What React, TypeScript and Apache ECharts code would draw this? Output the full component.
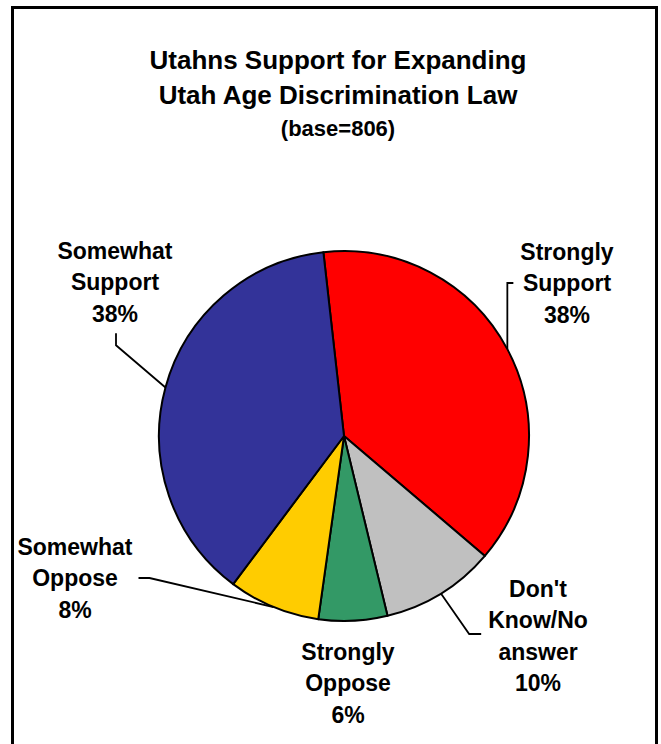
import React, { useEffect, useRef } from "react";
import * as echarts from "echarts";

const categories = [
  "Strongly\nSupport",
  "Don't\nKnow/No\nanswer",
  "Strongly\nOppose",
  "Somewhat\nOppose",
  "Somewhat\nSupport",
];
const values = [38, 10, 6, 8, 38];
const colors = ["#FF0000", "#C0C0C0", "#339966", "#FFCC00", "#333399"];
const titleLines = ["Utahns Support for Expanding", "Utah Age Discrimination Law"];
const subtitle = "(base=806)";

// label block centres (layout only)
const labelCenters: number[][] = [
  [567, 283],
  [538, 636],
  [348, 683],
  [75, 578],
  [115, 282],
];

export default function App() {
  const ref = useRef<HTMLDivElement>(null);
  useEffect(() => {
    if (!ref.current) return;
    const chart = echarts.init(ref.current, null, { renderer: "svg" });
    const font = "'Liberation Sans', Arial, sans-serif";
    chart.setOption({
      animation: false,
      backgroundColor: "#ffffff",
      textStyle: { fontFamily: font },
      title: {
        text: titleLines.join("\n"),
        subtext: subtitle,
        left: 338,
        top: 42,
        padding: 0,
        textAlign: "center",
        itemGap: 3,
        textStyle: { fontFamily: font, fontSize: 26, fontWeight: "bold", color: "#000", lineHeight: 35 },
        subtextStyle: { fontFamily: font, fontSize: 22, fontWeight: "bold", color: "#000", lineHeight: 26 },
      },
      graphic: [
        {
          type: "rect",
          shape: { x: 12.5, y: 7.5, width: 644, height: 800 },
          style: { fill: "none", stroke: "#000", lineWidth: 3 },
          silent: true,
        },
      ],
      series: [
        {
          type: "pie",
          center: [344, 436],
          radius: 185,
          startAngle: 96.4,
          clockwise: true,
          avoidLabelOverlap: false,
          itemStyle: { borderColor: "#000", borderWidth: 2 },
          emphasis: { disabled: true },
          label: {
            show: true,
            position: "outside",
            formatter: "{b}\n{c}%",
            fontFamily: font,
            fontSize: 23,
            fontWeight: "bold",
            color: "#000",
            lineHeight: 31.5,
          },
          labelLine: { show: true, length: 15, length2: 10, lineStyle: { color: "#000", width: 1.8 } },
          labelLayout: (params: any) => {
            const i = params.dataIndex;
            const [cx, cy] = labelCenters[i];
            const w = params.labelRect.width;
            const h = params.labelRect.height;
            const pts = params.labelLinePoints;
            let line: number[][] | undefined;
            if (pts && pts[0]) {
              const p0 = pts[0];
              if (i === 0) {
                const ex = cx - w / 2 - 7;
                line = [p0, [p0[0], cy], [ex, cy]];
              } else if (i === 1) {
                const ex = cx - w / 2 - 7;
                line = [p0, [ex - 12, cy - 2], [ex, cy - 2]];
              } else if (i === 3) {
                const ex = cx + w / 2 + 6;
                line = [p0, [ex + 11, cy], [ex, cy]];
              } else if (i === 4) {
                const ey = cy + h / 2 + 4;
                line = [p0, [cx + 1, ey + 12], [cx + 1, ey]];
              }
            }
            const out: any = { x: cx, y: cy, align: "center", verticalAlign: "middle" };
            if (line) out.labelLinePoints = line;
            return out;
          },
          data: categories.map((name, i) => ({
            name,
            value: values[i],
            itemStyle: { color: colors[i] },
            labelLine: i === 2 ? { show: false } : undefined,
          })),
        },
      ],
    });
    return () => chart.dispose();
  }, []);
  return (
    <div
      ref={ref}
      style={{ position: "absolute", left: 0, top: 0, width: 661, height: 744 }}
    />
  );
}
